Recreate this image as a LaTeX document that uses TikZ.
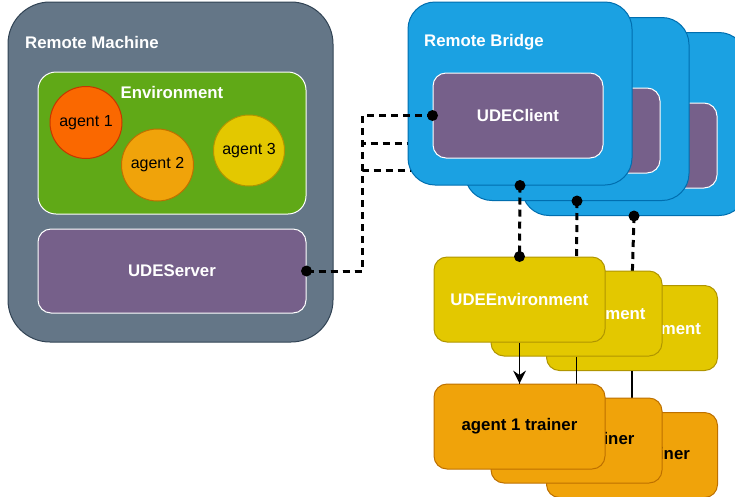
\documentclass[tikz,border=0pt]{standalone}
\usepackage{fontspec}
\setmainfont{Liberation Sans}
\usetikzlibrary{arrows.meta}
\definecolor{rmfill}{HTML}{647687}
\definecolor{rmdraw}{HTML}{314354}
\definecolor{envfill}{HTML}{60A917}
\definecolor{purp}{HTML}{76608A}
\definecolor{brfill}{HTML}{1BA1E2}
\definecolor{brdraw}{HTML}{006EAF}
\definecolor{yfill}{HTML}{E3C800}
\definecolor{ydraw}{HTML}{B09500}
\definecolor{ofill}{HTML}{F0A30A}
\definecolor{odraw}{HTML}{BD7000}
\definecolor{rfill}{HTML}{FA6800}
\definecolor{rdraw}{HTML}{C73500}
\tikzset{
  box/.style={rectangle, inner sep=0pt, line width=1pt, font=\fontsize{16.8}{19}\selectfont\bfseries},
  machinebox/.style={box, fill=rmfill, draw=rmdraw, minimum width=325pt, minimum height=340pt, rounded corners=42pt},
  envbox/.style={box, fill=envfill, draw=white, minimum width=268pt, minimum height=142pt, rounded corners=18pt},
  srvbox/.style={box, fill=purp, draw=white, text=white, minimum width=268pt, minimum height=84pt, rounded corners=13pt},
  bridgebox/.style={box, fill=brfill, draw=brdraw, minimum width=224pt, minimum height=183pt, rounded corners=27pt},
  clientbox/.style={box, fill=purp, draw=white, text=white, minimum width=170pt, minimum height=85pt, rounded corners=13pt},
  udeenvbox/.style={box, fill=yfill, draw=ydraw, text=white, minimum width=171pt, minimum height=85pt, rounded corners=13pt},
  trainerbox/.style={box, fill=ofill, draw=odraw, text=black, minimum width=171pt, minimum height=85pt, rounded corners=13pt},
  agentnode/.style={circle, inner sep=0pt, minimum size=72pt, line width=1pt, font=\fontsize{16}{19}\selectfont},
  titletext/.style={anchor=west, inner sep=0pt, text=white, font=\fontsize{16.8}{19}\selectfont\bfseries},
  conn/.style={line width=3pt, dash pattern=on 7pt off 5pt},
  plain/.style={line width=1.6pt},
  dot/.style={circle, fill=black, inner sep=0pt, minimum size=11pt}
}
\begin{document}
\begin{tikzpicture}[x=1pt,y=-1pt]
\useasboundingbox (0,0) rectangle (735,496);
% Remote machine
\node[machinebox] (rm) at (170.5,172) {};
\node[titletext] (rmlabel) at (25,42) {Remote Machine};
\node[envbox] (env) at (172,143) {};
\node[anchor=center, inner sep=0pt, text=white, font=\fontsize{16.8}{19}\selectfont\bfseries] (envlabel) at (172,92) {Environment};
\node[agentnode, fill=rfill, draw=rdraw] (a1) at (86,122.5) {agent 1};
\node[agentnode, fill=ofill, draw=odraw] (a2) at (157.5,165) {agent 2};
\node[agentnode, fill=yfill, draw=ydraw, minimum size=71pt] (a3) at (249,150.5) {agent 3};
\node[srvbox] (srv) at (172,271) {UDEServer};
\coordinate (bend) at (362,271);

% layer 3
\node[bridgebox] (b3) at (634,124) {};
\node[clientbox] (c3) at (632,145.5) {};
\node[udeenvbox] (e3) at (632,328) {UDEEnvironment};
\node[trainerbox] (t3) at (632,455) {agent 3 trainer};
\draw[plain] (e3.south) -- (t3.north);
\draw[conn] (b3.south) -- (e3.north);
\node[dot] (d3a) at (b3.south) {};
\node[dot] (d3b) at (e3.north) {};
\coordinate (h3) at (440,170);
\draw[conn] (srv.east) -- (bend) |- (h3);

% layer 2
\node[bridgebox] (b2) at (577,109) {};
\node[clientbox] (c2) at (575,130.5) {};
\node[udeenvbox] (e2) at (576.5,313.5) {UDEEnvironment};
\node[trainerbox] (t2) at (576.5,440.5) {agent 2 trainer};
\draw[plain] (e2.south) -- (t2.north);
\draw[conn] (b2.south) -- (e2.north);
\node[dot] (d2a) at (b2.south) {};
\node[dot] (d2b) at (e2.north) {};
\coordinate (h2) at (440,143);
\draw[conn] (srv.east) -- (bend) |- (h2);

% layer 1
\node[bridgebox] (b1) at (520,93.5) {};
\node[titletext] (b1label) at (424,42) {Remote Bridge};
\node[clientbox] (c1) at (518,115.5) {UDEClient};
\node[udeenvbox] (e1) at (519.5,299.5) {UDEEnvironment};
\node[trainerbox] (t1) at (519.5,426.5) {agent 1 trainer};
\draw[plain] (e1.south) -- (t1.north);
\fill (t1.north) -- ++(-6.5,-13) -- ++(6.5,4.5) -- ++(6.5,-4.5) -- cycle;
\draw[conn] (b1.south) -- (e1.north);
\node[dot] (d1a) at (b1.south) {};
\node[dot] (d1b) at (e1.north) {};
\draw[conn] (srv.east) -- (bend) |- (c1.west);
\node[dot] (ds) at (srv.east) {};
\node[dot] (dc) at (c1.west) {};
\end{tikzpicture}
\end{document}
